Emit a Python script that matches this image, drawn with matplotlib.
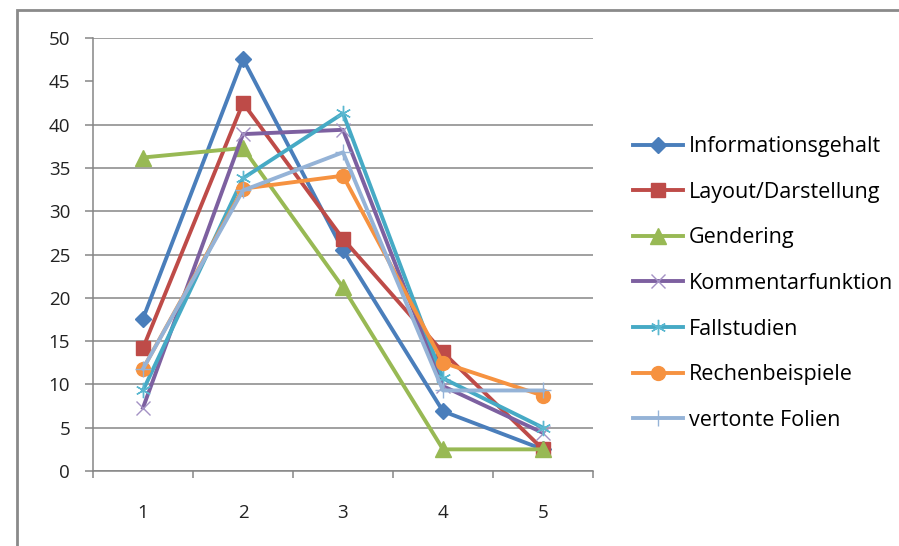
import matplotlib
matplotlib.use("Agg")
import matplotlib.pyplot as plt
from matplotlib.patches import Rectangle

# data
categories = [1, 2, 3, 4, 5]
informationsgehalt = [17.6, 47.6, 25.5, 6.9, 2.5]
layout = [14.2, 42.5, 26.8, 13.7, 2.5]
gendering = [36.2, 37.3, 21.2, 2.5, 2.5]
kommentar = [7.3, 38.9, 39.4, 9.8, 4.4]
fallstudien = [9.3, 33.8, 41.3, 10.7, 5.0]
rechenbeispiele = [11.8, 32.6, 34.1, 12.5, 8.7]
vertonte_folien = [11.8, 32.4, 36.8, 9.3, 9.3]

y_ticks = [0, 5, 10, 15, 20, 25, 30, 35, 40, 45, 50]
grid_levels = [0, 5, 10, 15, 20, 25, 30, 35, 40, 50]

plt.rcParams['font.family'] = ['Open Sans', 'DejaVu Sans']

fig = plt.figure(figsize=(8.99, 5.46), dpi=100)
ax = fig.add_axes([93 / 899, 1 - 471 / 546, 500 / 899, 433 / 546])

# chart border (left/top visible only)
fig.patches.append(Rectangle((17 / 899, -0.1), 1.0, 1 - 10 / 546 + 0.1,
                             transform=fig.transFigure, fill=False,
                             edgecolor='#8a8a8a', linewidth=2.0, zorder=0))

gray = '#868686'
for g in grid_levels:
    ax.axhline(g, color=gray, linewidth=1.1, zorder=0)

lw = 2.8
ax.plot(categories, informationsgehalt, color='#4A7EBB', lw=lw, marker='D',
        markersize=8, label='Informationsgehalt')
ax.plot(categories, layout, color='#BE4B48', lw=lw, marker='s',
        markersize=10, label='Layout/Darstellung')
ax.plot(categories, gendering, color='#98B954', lw=lw, marker='^',
        markersize=11, label='Gendering')
ax.plot(categories, kommentar, color='#7D60A0', lw=lw, marker='x',
        markersize=10, markeredgewidth=1.0, markeredgecolor='#A492C4',
        label='Kommentarfunktion')
ax.plot(categories, fallstudien, color='#46AAC5', lw=lw, marker=(6, 2, 0),
        markersize=11, markeredgewidth=1.0, markeredgecolor='#5BB8D0',
        label='Fallstudien')
ax.plot(categories, rechenbeispiele, color='#F69240', lw=lw, marker='o',
        markersize=10, label='Rechenbeispiele')
ax.plot(categories, vertonte_folien, color='#95B3D7', lw=lw, marker='+',
        markersize=11, markeredgewidth=1.0, label='vertonte Folien')

ax.set_xlim(0.5, 5.5)
ax.set_ylim(0, 50)
ax.set_yticks(y_ticks)
ax.set_yticklabels([str(t) for t in y_ticks])
ax.set_xticks(categories)
ax.set_xticklabels([str(c) for c in categories])
ax.set_xticks([0.5, 1.5, 2.5, 3.5, 4.5, 5.5], minor=True)

for side in ['top', 'right']:
    ax.spines[side].set_visible(False)
for side in ['left', 'bottom']:
    ax.spines[side].set_color(gray)
    ax.spines[side].set_linewidth(1.1)

ax.tick_params(axis='y', length=6, color=gray, width=1.1, labelsize=13.5,
               pad=10.5, labelcolor='#222222')
ax.tick_params(axis='x', which='major', length=0, labelsize=13.5, pad=24,
               labelcolor='#222222')
ax.tick_params(axis='x', which='minor', length=5, color=gray, width=1.1)

fig.legend(loc='center left', bbox_to_anchor=(633 / 899, 1 - 283.5 / 546),
           frameon=False, fontsize=15.5, handlelength=2.3,
           handletextpad=0.28, labelspacing=1.14, borderpad=0,
           borderaxespad=0)

fig.savefig('out.png', dpi=100, facecolor='white')
